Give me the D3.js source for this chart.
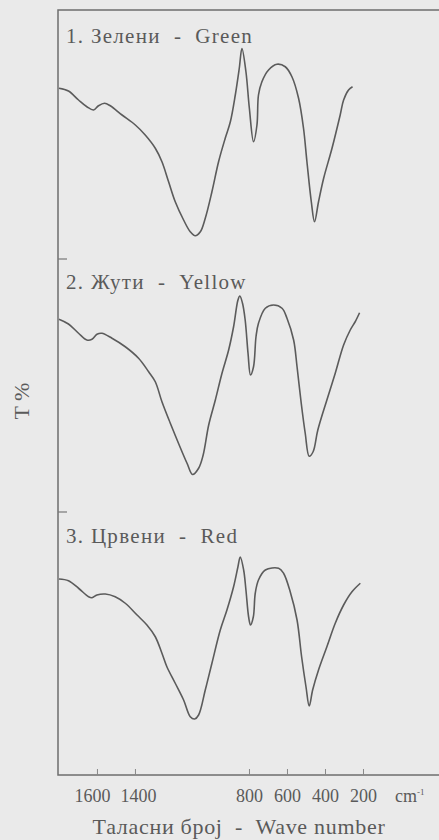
<!DOCTYPE html>
<html>
<head>
<meta charset="utf-8">
<script src="https://cdn.jsdelivr.net/npm/d3@7"></script>
<style>
  html, body { margin: 0; padding: 0; background: #eaeaea; }
  svg { display: block; }
  text { font-family: "Liberation Serif", "DejaVu Serif", serif; fill: #5a5a5a; white-space: pre; }
</style>
</head>
<body>
<div id="chart"></div>
<script>
// IR spectra, three pigments (T % vs wave number)
var panelLabels = ["1. Зелени  -  Green", "2. Жути  -  Yellow", "3. Црвени  -  Red"];
var tickValues = [1600, 1400, 800, 600, 400, 200];

var greenWn = [1800, 1750, 1697, 1653, 1618, 1592, 1560, 1530, 1468, 1398, 1346, 1293, 1258, 1223, 1188, 1144, 1109, 1083, 1056, 1030, 995, 960, 925, 898, 872, 851, 837, 816, 798, 776, 758, 750, 732, 697, 653, 609, 574, 539, 513, 495, 472, 455, 434, 407, 363, 320, 302, 276, 255];
var greenT = [68.3, 67.2, 63.6, 60.9, 59.6, 61.3, 62.3, 61.3, 57.6, 53.6, 49.6, 44.3, 38.9, 30.9, 22.9, 15.6, 10.9, 9.3, 10.9, 16.3, 26.9, 38.9, 48.3, 54.9, 65.6, 76.3, 84.2, 74.9, 60.3, 46.9, 53.6, 65.6, 70.9, 75.6, 77.9, 76.9, 72.9, 64.3, 52.3, 38.9, 22.9, 14.9, 22.9, 32.3, 44.3, 57.6, 63.6, 67.6, 68.9];

var yellowWn = [1800, 1750, 1697, 1653, 1626, 1600, 1574, 1521, 1451, 1381, 1328, 1293, 1258, 1214, 1171, 1126, 1097, 1065, 1041, 1012, 977, 942, 907, 881, 858, 848, 834, 820, 805, 792, 776, 763, 750, 714, 671, 626, 600, 565, 547, 525, 504, 483, 462, 438, 390, 346, 302, 267, 241, 218];
var yellowT = [75.9, 74.0, 70.3, 67.6, 67.9, 69.9, 70.3, 68.3, 64.9, 60.3, 54.9, 50.9, 42.9, 34.3, 26.3, 18.3, 13.8, 16.3, 21.6, 33.6, 43.6, 54.3, 63.6, 72.9, 83.6, 85.2, 82.3, 75.6, 62.3, 53.6, 56.9, 68.9, 74.3, 80.3, 81.6, 80.3, 76.3, 67.6, 56.9, 42.3, 30.3, 21.1, 23.0, 31.5, 43.6, 54.3, 65.6, 71.6, 74.9, 78.5];

var redWn = [1800, 1750, 1697, 1644, 1626, 1600, 1556, 1504, 1451, 1389, 1337, 1293, 1258, 1232, 1188, 1144, 1109, 1086, 1065, 1030, 995, 951, 916, 881, 858, 846, 828, 816, 802, 792, 777, 767, 750, 714, 644, 618, 583, 547, 523, 500, 483, 465, 434, 390, 346, 302, 258, 214];
var redT = [73.2, 72.5, 69.5, 66.1, 65.7, 66.8, 67.2, 66.1, 63.5, 58.8, 54.8, 50.1, 43.5, 38.1, 31.5, 24.8, 18.1, 17.2, 18.8, 28.8, 39.5, 52.8, 60.8, 70.1, 78.1, 82.0, 76.8, 68.8, 58.1, 54.8, 58.1, 67.5, 72.8, 76.8, 77.5, 75.5, 68.1, 56.8, 42.1, 30.1, 22.4, 28.8, 36.8, 46.1, 55.5, 62.8, 68.1, 71.5];

var width = 439,
  height = 840,
  margin = { top: 10, left: 58, bottom: 65 },
  plotBottom = height - margin.bottom,
  panelTops = [9, 259, 512],
  labelOffsets = [34, 30, 31],
  panelHeight = 250;

var series = [
  { wn: greenWn, t: greenT },
  { wn: yellowWn, t: yellowT },
  { wn: redWn, t: redT }
];

var svg = d3.select("#chart").append("svg")
  .attr("width", width)
  .attr("height", height);

var x = d3.scaleLinear()
  .domain([1805, -200])
  .range([margin.left, width]);

// frame: right edge runs off the page
svg.append("rect")
  .attr("x", margin.left)
  .attr("y", margin.top)
  .attr("width", width)
  .attr("height", plotBottom - margin.top)
  .attr("fill", "none")
  .attr("stroke", "#6e6e6e")
  .attr("stroke-width", 1.5);

var xAxis = d3.axisBottom(x)
  .tickValues(tickValues)
  .tickSizeInner(-6)
  .tickSizeOuter(0)
  .tickPadding(14)
  .tickFormat(d3.format("d"));

var gx = svg.append("g")
  .attr("transform", "translate(0," + plotBottom + ")")
  .call(xAxis);
gx.select(".domain").remove();
gx.selectAll(".tick line").attr("stroke", "#888").attr("stroke-width", 1);
// the two left labels sit a little apart in the original
gx.selectAll(".tick text")
  .attr("fill", "#5a5a5a")
  .attr("dx", function(d) { return d === 1600 ? -5 : (d === 1400 ? 3 : 0); })
  .style("font-family", "'Liberation Serif', serif")
  .style("font-size", "18px");

var unit = svg.append("text")
  .attr("x", 395)
  .attr("y", plotBottom + 27)
  .style("font-size", "18px")
  .text("cm");
unit.append("tspan")
  .attr("dy", -7)
  .style("font-size", "9px")
  .text("-1");

svg.append("text")
  .attr("x", 239)
  .attr("y", height - 6)
  .attr("text-anchor", "middle")
  .style("font-size", "22px")
  .style("letter-spacing", "0.7px")
  .text("Таласни број  -  Wave number");

svg.append("text")
  .attr("transform", "translate(29," + 401 + ") rotate(-90)")
  .attr("text-anchor", "middle")
  .style("font-size", "22px")
  .text("T %");

// little marks on the left edge between panels
svg.selectAll(".sep")
  .data(panelTops.slice(1))
  .enter()
  .append("line")
  .attr("x1", margin.left)
  .attr("x2", margin.left + 9)
  .attr("y1", function(d) { return d; })
  .attr("y2", function(d) { return d; })
  .attr("stroke", "#777")
  .attr("stroke-width", 1.2);

series.forEach(function(s, i) {
  var y = d3.scaleLinear()
    .domain([0, 100])
    .range([panelTops[i] + panelHeight, panelTops[i]]);

  var line = d3.line()
    .x(function(d) { return x(d[0]); })
    .y(function(d) { return y(d[1]); })
    .curve(d3.curveCatmullRom.alpha(0.5));

  var pts = s.wn.map(function(w, k) { return [w, s.t[k]]; });

  svg.append("path")
    .datum(pts)
    .attr("fill", "none")
    .attr("stroke", "#5b5b5b")
    .attr("stroke-width", 1.6)
    .attr("d", line);

  svg.append("text")
    .attr("x", 66)
    .attr("y", panelTops[i] + labelOffsets[i])
    .style("font-size", "21px")
    .style("letter-spacing", "1.3px")
    .text(panelLabels[i]);
});
</script>
</body>
</html>
